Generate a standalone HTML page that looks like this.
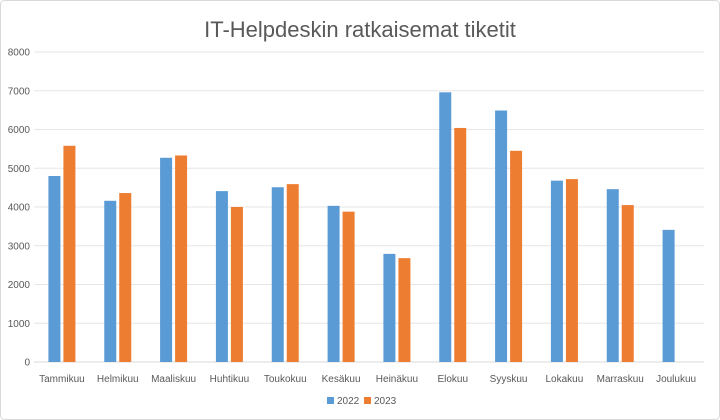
<!DOCTYPE html>
<html><head><meta charset="utf-8"><style>
html,body{margin:0;padding:0;background:#fff;}
svg{display:block;font-family:"Liberation Sans",Arial,sans-serif;}
</style></head><body>
<svg id="chart" width="720" height="420" viewBox="0 0 720 420">
<rect x="0.5" y="0.5" width="719" height="419" rx="4" fill="#fff" stroke="#d9d9d9"/>
<text x="360" y="37" text-anchor="middle" font-size="22" fill="#595959">IT-Helpdeskin ratkaisemat tiketit</text>
<g id="grid"></g><g id="bars"></g><g id="xlabels"></g>
<g>
<rect x="327" y="397" width="7" height="7" fill="#5b9bd5"/>
<text x="337" y="404" font-size="10" fill="#595959">2022</text>
<rect x="364" y="397" width="7" height="7" fill="#ed7d31"/>
<text x="374" y="404" font-size="10" fill="#595959">2023</text>
</g>
</svg>
<script>
const categories=["Tammikuu","Helmikuu","Maaliskuu","Huhtikuu","Toukokuu","Kesäkuu","Heinäkuu","Elokuu","Syyskuu","Lokakuu","Marraskuu","Joulukuu"];
const series2022=[4800,4160,5270,4410,4510,4030,2790,6960,6490,4680,4460,3410];
const series2023=[5580,4360,5330,4000,4590,3880,2680,6040,5450,4720,4050,null];
const yTicks=[0,1000,2000,3000,4000,5000,6000,7000,8000];
const NS="http://www.w3.org/2000/svg";
const left=34,right=704,y0=362,yTop=52,yMax=8000;
const band=(right-left)/categories.length;
function y(v){return y0-(v/yMax)*(y0-yTop);}
function xc(i){return left+band*(i+0.5);}
function mk(tag,attrs,parent){const e=document.createElementNS(NS,tag);for(const k in attrs)e.setAttribute(k,attrs[k]);parent.appendChild(e);return e;}
const grid=document.getElementById('grid'),bars=document.getElementById('bars'),xl=document.getElementById('xlabels');
yTicks.forEach(t=>{
 const l=mk('line',{x1:left,x2:right,y1:y(t),y2:y(t),stroke:t===0?'#d9d9d9':'#e6e6e6','stroke-width':1},grid);
 
 
 const tx=mk('text',{x:30,y:y(t)+3.5,'text-anchor':'end','font-size':10,fill:'#595959'},grid);
 tx.textContent=t;
 
 
});
const bw=12,gap=3;
categories.forEach((c,i)=>{
 const cx=xc(i);
 const v1=series2022[i];
 if(v1!=null){const r=mk('rect',{x:cx-gap/2-bw,y:y(v1),width:bw,height:y0-y(v1),fill:'#5b9bd5'},bars);
 
 }
 const v2=series2023[i];
 if(v2!=null){const r=mk('rect',{x:cx+gap/2,y:y(v2),width:bw,height:y0-y(v2),fill:'#ed7d31'},bars);
 
 }
 const t=mk('text',{x:cx,y:382,'text-anchor':'middle','font-size':10,fill:'#595959'},xl);
 t.textContent=c;
 
 
});
</script>
</body></html>
